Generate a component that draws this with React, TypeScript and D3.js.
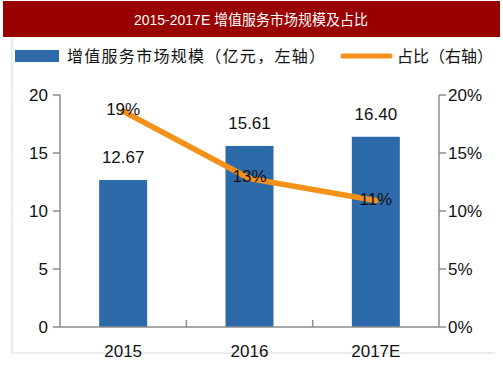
import React from "react";
import * as d3 from "d3";

const categories = ["2015", "2016", "2017E"];
const marketSize = [12.67, 15.61, 16.4];
const shareValues = [0.186, 0.128, 0.109];
const leftTicks = [0, 5, 10, 15, 20];
const rightTicks = [0, 0.05, 0.1, 0.15, 0.2];
const title = "2015-2017E 增值服务市场规模及占比";
const legendBar = "增值服务市场规模（亿元，左轴）";
const legendLine = "占比（右轴）";

const BLUE = "#2d6aa9";
const ORANGE = "#f39119";
const AXIS = "#8c8c8c";
const FONT = "Arial, 'Liberation Sans', sans-serif";
const CJK = "'Noto Sans CJK SC', sans-serif";

export default function App() {
  const W = 503, H = 378;
  const x = d3.scaleBand<string>().domain(categories).range([60, 439]).padding(0);
  const yL = d3.scaleLinear().domain([0, 20]).range([327, 95]);
  const yR = d3.scaleLinear().domain([0, 0.2]).range([327, 95]);
  const barW = 48;
  const cx = (c: string) => (x(c) as number) + x.bandwidth() / 2;
  const line = d3
    .line<number>()
    .x((_, i) => cx(categories[i]))
    .y((d) => yR(d));
  const pct = d3.format(".0%");

  return (
    <svg
      width={W}
      height={H}
      style={{ position: "absolute", left: 0, top: 0, background: "#fff" }}
    >
      <rect x={3} y={1} width={497} height={36} fill="#990000" />
      <text
        x={251}
        y={25}
        textAnchor="middle"
        fill="#fff"
        fontFamily={`Arial, ${CJK}`}
        fontSize={14.5}
        textLength={234}
        lengthAdjust="spacingAndGlyphs"
      >
        {title}
      </text>
      {/* frame */}
      <line x1={12} x2={12} y1={37} y2={353} stroke="#d9d9d9" />
      <line x1={12} x2={495} y1={353} y2={353} stroke="#d9d9d9" />

      {/* legend */}
      <rect x={15} y={50} width={44} height={12} fill={BLUE} />
      <text
        x={67}
        y={62}
        fontFamily={CJK}
        fontSize={16}
        fill="#111"
        textLength={258}
        lengthAdjust="spacing"
      >
        {legendBar}
      </text>
      <line x1={343} x2={390} y1={56} y2={56} stroke={ORANGE} strokeWidth={5} strokeLinecap="round" />
      <text
        x={397}
        y={62}
        fontFamily={CJK}
        fontSize={16}
        fill="#111"
        textLength={96}
        lengthAdjust="spacing"
      >
        {legendLine}
      </text>

      {/* bars */}
      {categories.map((c, i) => (
        <rect
          key={c}
          x={cx(c) - barW / 2}
          y={yL(marketSize[i])}
          width={barW}
          height={yL(0) - yL(marketSize[i])}
          fill={BLUE}
        />
      ))}
      {categories.map((c, i) => (
        <text
          key={"bl" + c}
          x={cx(c)}
          y={yL(marketSize[i]) - 17}
          textAnchor="middle"
          fontFamily={FONT}
          fontSize={17}
          fill="#111"
        >
          {marketSize[i].toFixed(2)}
        </text>
      ))}

      {/* axes */}
      <line x1={60} x2={60} y1={95} y2={327} stroke={AXIS} strokeWidth={1.5} />
      <line x1={439} x2={439} y1={95} y2={327} stroke={AXIS} strokeWidth={1.5} />
      <line x1={60} x2={439} y1={327} y2={327} stroke={AXIS} strokeWidth={1.5} />
      {leftTicks.map((t) => (
        <g key={"l" + t}>
          <line x1={53} x2={60} y1={yL(t)} y2={yL(t)} stroke={AXIS} strokeWidth={1.5} />
          <text
            x={48}
            y={yL(t)}
            dy="0.35em"
            textAnchor="end"
            fontFamily={FONT}
            fontSize={17}
            fill="#111"
          >
            {t}
          </text>
        </g>
      ))}
      {rightTicks.map((t) => (
        <g key={"r" + t}>
          <line x1={439} x2={446} y1={yR(t)} y2={yR(t)} stroke={AXIS} strokeWidth={1.5} />
          <text
            x={448}
            y={yR(t)}
            dy="0.35em"
            textAnchor="start"
            fontFamily={FONT}
            fontSize={17}
            fill="#111"
          >
            {pct(t)}
          </text>
        </g>
      ))}
      {categories.map((c, i) => (
        <g key={"x" + c}>
          {i > 0 && (
            <line
              x1={x(c) as number}
              x2={x(c) as number}
              y1={327}
              y2={320}
              stroke={AXIS}
              strokeWidth={1.5}
            />
          )}
          <text
            x={cx(c)}
            y={351}
            dy="0.35em"
            textAnchor="middle"
            fontFamily={FONT}
            fontSize={17}
            fill="#111"
          >
            {c}
          </text>
        </g>
      ))}

      {/* line */}
      <path
        d={line(shareValues) || ""}
        fill="none"
        stroke={ORANGE}
        strokeWidth={5.5}
        strokeLinejoin="round"
        strokeLinecap="round"
      />
      {categories.map((c, i) => (
        <text
          key={"pl" + c}
          x={cx(c)}
          y={yR(shareValues[i]) - 2}
          dy="0.35em"
          textAnchor="middle"
          fontFamily={FONT}
          fontSize={17}
          fill="#111"
        >
          {pct(shareValues[i])}
        </text>
      ))}
    </svg>
  );
}
